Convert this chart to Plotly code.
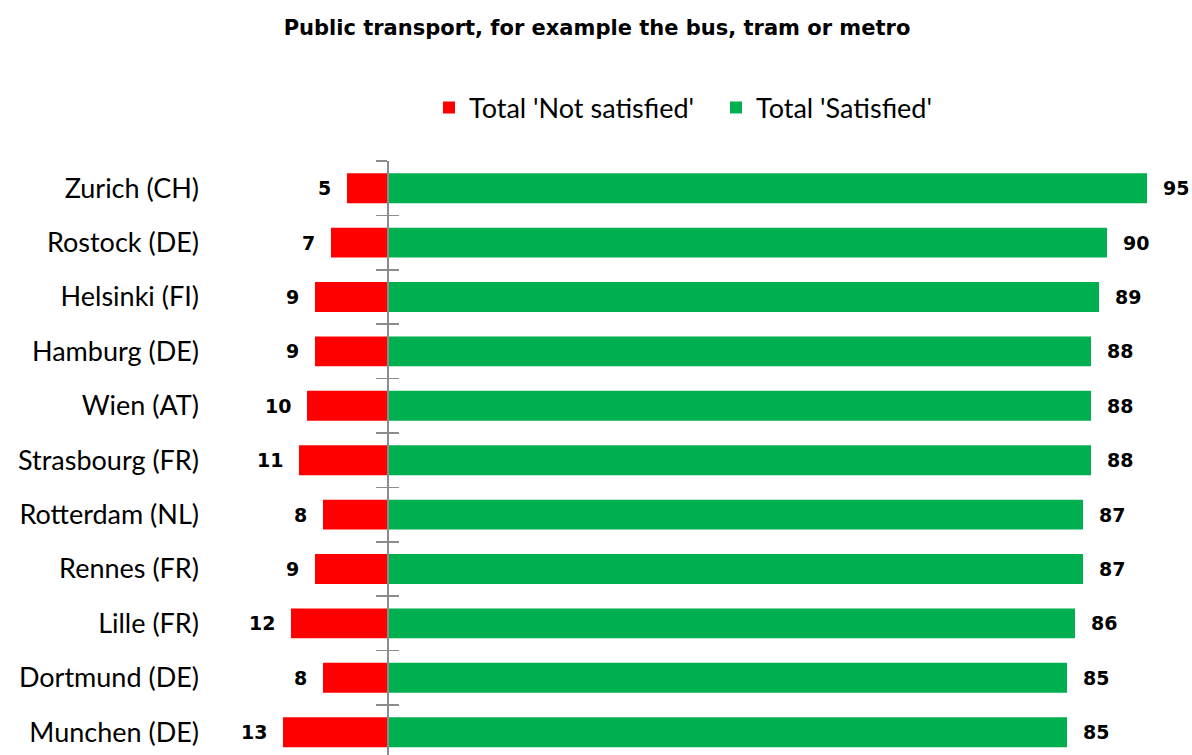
import plotly.graph_objects as go

cities = ["Zurich (CH)", "Rostock (DE)", "Helsinki (FI)", "Hamburg (DE)", "Wien (AT)",
          "Strasbourg (FR)", "Rotterdam (NL)", "Rennes (FR)", "Lille (FR)",
          "Dortmund (DE)", "Munchen (DE)"]
not_satisfied = [5, 7, 9, 9, 10, 11, 8, 9, 12, 8, 13]
satisfied = [95, 90, 89, 88, 88, 88, 87, 87, 86, 85, 85]

RED = "#FF0000"
GREEN = "#00B050"
idx = list(range(len(cities)))

W, H = 1192, 755
TOP = 161
L, R = 210, W
px_per_unit = 8.0
zero_px = 387

fig = go.Figure()
fig.add_trace(go.Bar(y=idx, x=[-v for v in not_satisfied], orientation="h",
                     name="Total 'Not satisfied'", marker=dict(color=RED, line=dict(width=0)),
                     width=0.55, hoverinfo="skip"))
fig.add_trace(go.Bar(y=idx, x=satisfied, orientation="h",
                     name="Total 'Satisfied'", marker=dict(color=GREEN, line=dict(width=0)),
                     width=0.55, hoverinfo="skip"))

num_font = dict(family="DejaVu Sans", size=19, color="#000000", weight="bold")
annotations = []
for i, (n, s) in enumerate(zip(not_satisfied, satisfied)):
    annotations.append(dict(x=-n, y=i, text=str(n), showarrow=False, xanchor="right",
                            xshift=-14, font=num_font, xref="x", yref="y"))
    annotations.append(dict(x=s, y=i, text=str(s), showarrow=False, xanchor="left",
                            xshift=14, font=num_font, xref="x", yref="y"))

n = len(cities)
plot_h = H - TOP
row_px = 54.4
yrange = [-0.5 + plot_h / row_px, -0.5]
boundaries = [k - 0.5 for k in range(n + 1)]

xr = [-(zero_px - L) / px_per_unit, (R - zero_px) / px_per_unit]
zero_pos = (zero_px - L) / (R - L)

fig.update_layout(
    width=W, height=H,
    margin=dict(l=L, r=W - R, t=TOP, b=0),
    paper_bgcolor="white", plot_bgcolor="white",
    barmode="overlay",
    hovermode=False,
    title=dict(text="<b>Public transport, for example the bus, tram or metro</b>",
               x=597 / W, xanchor="center", xref="container",
               y=1 - 28 / H, yanchor="middle",
               font=dict(family="DejaVu Sans", size=21, color="#000000")),
    legend=dict(orientation="h", x=(429 - L) / (R - L), xanchor="left",
                y=1 + (TOP - 108) / plot_h, yanchor="middle",
                font=dict(family="Lato", size=27, color="#000000"),
                entrywidth=242, entrywidthmode="pixels",
                itemclick=False, traceorder="normal"),
    xaxis=dict(range=xr, showgrid=False, zeroline=False, showticklabels=False,
               showline=False, ticks=""),
    yaxis=dict(range=yrange, tickvals=idx, ticktext=cities, showgrid=False,
               zeroline=False, showline=False, ticks="", ticklabelstandoff=10,
               tickfont=dict(family="Lato", size=27, color="#000000")),
    yaxis2=dict(range=yrange, overlaying="y", anchor="free", position=zero_pos,
                side="left", showline=True, linecolor="#8C8C8C", linewidth=1.5,
                ticks="outside", ticklen=11, tickcolor="#8C8C8C", tickwidth=1.5,
                tickvals=boundaries, showticklabels=False, showgrid=False, zeroline=False),
    yaxis3=dict(range=yrange, overlaying="y", anchor="free", position=zero_pos,
                side="left", showline=False,
                ticks="inside", ticklen=11, tickcolor="#8C8C8C", tickwidth=1.5,
                tickvals=boundaries, showticklabels=False, showgrid=False, zeroline=False),
    annotations=annotations,
)
# invisible helper traces so the overlay axes are drawn
fig.add_trace(go.Scatter(x=[0], y=[0], yaxis="y2", mode="markers", marker=dict(opacity=0),
                         showlegend=False, hoverinfo="skip"))
fig.add_trace(go.Scatter(x=[0], y=[0], yaxis="y3", mode="markers", marker=dict(opacity=0),
                         showlegend=False, hoverinfo="skip"))

fig.write_html("out.html",
               config={"displayModeBar": False, "staticPlot": True},
               post_script="document.body.style.margin='0';document.body.style.overflow='hidden';")
